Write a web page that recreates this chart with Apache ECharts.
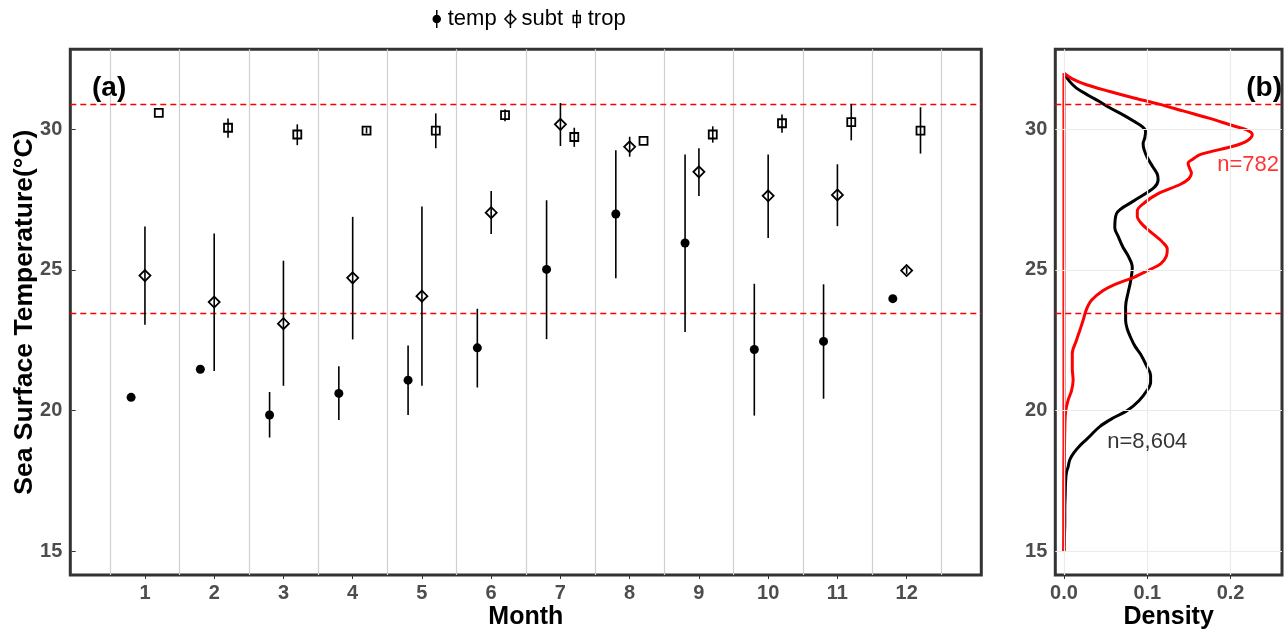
<!DOCTYPE html>
<html><head><meta charset="utf-8">
<script src="https://cdn.jsdelivr.net/npm/echarts@6/dist/echarts.min.js"></script>
<style>html,body{margin:0;padding:0;background:#fff}#c{width:1287px;height:634px}</style>
</head><body><div id="c"></div>
<script>
// ---------- data ----------
const months = [1,2,3,4,5,6,7,8,9,10,11,12];
const tempMean = [20.47,21.47,19.84,20.61,21.08,22.23,25.02,26.99,25.96,22.17,22.46,23.98];
const tempLow  = [null,null,19.04,19.66,19.84,20.82,22.54,24.71,22.79,19.82,20.42,null];
const tempHigh = [null,null,20.66,21.58,22.31,23.62,27.48,29.26,29.11,24.51,24.49,null];
const subtMean = [24.80,23.86,23.09,24.72,24.07,27.04,30.18,29.38,28.49,27.64,27.67,24.98];
const subtLow  = [23.05,21.41,20.88,22.53,20.88,26.28,29.41,29.03,27.63,26.14,26.56,24.86];
const subtHigh = [26.55,26.30,25.33,26.89,27.26,27.81,30.94,29.74,29.33,29.11,28.76,25.10];
const tropMean = [30.59,30.06,29.82,29.96,29.96,30.51,29.73,29.59,29.82,30.22,30.26,29.96];
const tropLow  = [null,29.70,29.44,29.86,29.33,30.29,29.38,null,29.53,29.88,29.61,29.14];
const tropHigh = [null,30.39,30.18,30.07,30.57,30.71,30.06,null,30.11,30.53,30.91,30.79];

const refLines = [30.91, 23.47];

const blackSST = [15,15.5,16,16.5,17,17.5,17.8,18.0,18.25,18.5,18.75,19.0,19.43,19.75,20.0,20.35,20.73,21.0,21.25,21.6,22.0,22.3,22.6,22.9,23.2,23.7,24.2,24.6,25.1,25.5,25.8,26.2,26.5,27.0,27.46,27.93,28.2,28.41,28.7,29.0,29.3,29.5,29.7,29.94,30.1,30.29,30.5,30.77,31.0,31.2,31.47,31.7,32.0];
const blackDensity = [0,0.0005,0.001,0.001,0.0015,0.002,0.003,0.005,0.007,0.012,0.019,0.028,0.043,0.060,0.076,0.090,0.100,0.104,0.104,0.099,0.092,0.085,0.080,0.076,0.074,0.074,0.077,0.080,0.082,0.077,0.071,0.065,0.061,0.063,0.084,0.108,0.113,0.112,0.106,0.100,0.096,0.095,0.097,0.098,0.094,0.084,0.072,0.055,0.042,0.030,0.015,0.007,0];
const redSST = [15,17,19.3,19.96,20.37,20.7,21.08,21.5,22.03,22.5,22.85,23.21,23.6,23.92,24.27,24.5,24.74,25.0,25.22,25.5,25.75,26.0,26.16,26.45,26.69,26.9,27.1,27.4,27.7,28.05,28.25,28.45,28.6,28.8,28.95,29.11,29.41,29.6,29.82,30.0,30.12,30.4,30.65,30.9,31.12,31.35,31.59,31.8,32.0];
const redDensity = [0,0,0.001,0.002,0.005,0.009,0.011,0.010,0.010,0.015,0.019,0.023,0.027,0.033,0.047,0.062,0.084,0.102,0.116,0.123,0.124,0.118,0.112,0.100,0.092,0.088,0.088,0.097,0.112,0.140,0.150,0.153,0.151,0.149,0.155,0.164,0.204,0.220,0.226,0.218,0.204,0.174,0.144,0.114,0.084,0.055,0.027,0.010,0];

const monthTicks = [1,2,3,4,5,6,7,8,9,10,11,12];
const sstTicks = [15,20,25,30];
const densityTicks = [0,0.1,0.2];
const monthGrid = [0.5,1.5,2.5,3.5,4.5,5.5,6.5,7.5,8.5,9.5,10.5,11.5,12.5];
const redLabel = 'n=782', blackLabel = 'n=8,604';

// ---------- layout / style ----------
const FONT = "'Liberation Sans', Arial, sans-serif";
const dodge = {temp:-0.2, subt:0, trop:0.2};
const redLabelPos = [0.221, 28.72];
const blackLabelPos = [0.1, 18.88];

function pts(means, off){ return months.map((m,i)=>[m+off, means[i]]); }
function bars(lo, hi, off){ const r=[]; months.forEach((m,i)=>{ if(lo[i]!=null) r.push([m+off, lo[i], hi[i]]); }); return r; }
const barData = [].concat(bars(tempLow,tempHigh,dodge.temp), bars(subtLow,subtHigh,dodge.subt), bars(tropLow,tropHigh,dodge.trop));

const tickLabel = {fontFamily:FONT, fontWeight:'bold', fontSize:20, color:'#4d4d4d'};
const nameStyleX = {fontFamily:FONT, fontWeight:'bold', fontSize:25, color:'#000'};
const nameStyleY = {fontFamily:FONT, fontWeight:'bold', fontSize:26.5, color:'#000'};
const tickStyle = {show:true, length:4, lineStyle:{color:'#333', width:1}};

const chart = echarts.init(document.getElementById('c'), null, {renderer:'canvas'});
const option = {
  animation:false,
  backgroundColor:'#fff',
  textStyle:{fontFamily:FONT},
  grid:[
    {left:70.3, top:49.3, width:911, height:525.7, show:true, borderColor:'#333', borderWidth:3, backgroundColor:'#fff', containLabel:false, outerBoundsMode:'none'},
    {left:1055.3, top:49.3, width:226.7, height:525.7, show:true, borderColor:'#333', borderWidth:3, backgroundColor:'#fff', containLabel:false, outerBoundsMode:'none'}
  ],
  xAxis:[
    {type:'value', gridIndex:0, min:-0.078, max:13.078, name:'Month', nameLocation:'middle', nameGap:30, nameMoveOverlap:false, nameTextStyle:nameStyleX,
     axisLine:{show:false}, splitLine:{show:false}, axisTick:Object.assign({customValues:monthTicks}, tickStyle),
     axisLabel:Object.assign({customValues:monthTicks, margin:8}, tickLabel)},
    {type:'value', gridIndex:1, min:-0.0104, max:0.2617, name:'Density', nameLocation:'middle', nameGap:30, nameMoveOverlap:false, nameTextStyle:nameStyleX,
     axisLine:{show:false}, splitLine:{show:false}, axisTick:Object.assign({customValues:densityTicks}, tickStyle),
     axisLabel:Object.assign({customValues:densityTicks, margin:8, formatter:v=>v.toFixed(1)}, tickLabel)}
  ],
  yAxis:[
    {type:'value', gridIndex:0, min:14.15, max:32.85, name:'Sea Surface Temperature(°C)', nameLocation:'middle', nameGap:32, nameMoveOverlap:false, nameTextStyle:nameStyleY,
     axisLine:{show:false}, splitLine:{show:false}, axisTick:Object.assign({customValues:sstTicks}, tickStyle),
     axisLabel:Object.assign({customValues:sstTicks, margin:8}, tickLabel)},
    {type:'value', gridIndex:1, min:14.15, max:32.85,
     axisLine:{show:false}, splitLine:{show:false}, axisTick:Object.assign({customValues:sstTicks}, tickStyle),
     axisLabel:Object.assign({customValues:sstTicks, margin:8}, tickLabel)}
  ],
  legend:{
    left:425, top:3, itemWidth:12, itemHeight:18, itemGap:7,
    textStyle:{fontFamily:FONT, fontSize:22, color:'#000'},
    data:[
      {name:'temp', icon:'path://M0,0M12,18M6,0L6,18M9.5,9A3.5,3.5,0,1,1,2.5,9A3.5,3.5,0,1,1,9.5,9Z', itemStyle:{color:'#000', borderColor:'#000', borderWidth:1.5}},
      {name:'subt', icon:'path://M0,0M12,18M6,0L6,18M6,3.5L11.5,9L6,14.5L0.5,9Z', itemStyle:{color:'rgba(0,0,0,0)', borderColor:'#000', borderWidth:1.5}},
      {name:'trop', icon:'path://M0,0M12,18M6,0L6,18M2.5,5.5L9.5,5.5L9.5,12.5L2.5,12.5Z', itemStyle:{color:'rgba(0,0,0,0)', borderColor:'#000', borderWidth:1.5}}
    ]
  },
  graphic:[
    {type:'text', left:92, top:74, style:{text:'(a)', font:"bold 28px 'Liberation Sans', Arial, sans-serif", fill:'#000'}, z:100},
    {type:'text', right:5, top:74, style:{text:'(b)', font:"bold 28px 'Liberation Sans', Arial, sans-serif", fill:'#000'}, z:100}
  ],
  series:[
    {name:'gridA', type:'line', xAxisIndex:0, yAxisIndex:0, data:[], z:1, silent:true,
     markLine:{silent:true, symbol:'none', label:{show:false}, animation:false,
       lineStyle:{color:'#cfcfcf', width:1.2, type:'solid'}, data:monthGrid.map(v=>({xAxis:v}))}},
    {name:'gridB', type:'line', xAxisIndex:1, yAxisIndex:1, data:[], z:1, silent:true,
     markLine:{silent:true, symbol:'none', label:{show:false}, animation:false,
       lineStyle:{color:'#ebebeb', width:1.2, type:'solid'}, data:densityTicks.map(v=>({xAxis:v})).concat(sstTicks.map(v=>({yAxis:v})))}},
    {name:'refA', type:'line', xAxisIndex:0, yAxisIndex:0, data:[], z:2, silent:true,
     markLine:{silent:true, symbol:'none', label:{show:false}, animation:false,
       lineStyle:{color:'#ff0000', width:1.3, type:[6,4]}, data:refLines.map(v=>({yAxis:v}))}},
    {name:'refB', type:'line', xAxisIndex:1, yAxisIndex:1, data:[], z:2, silent:true,
     markLine:{silent:true, symbol:'none', label:{show:false}, animation:false,
       lineStyle:{color:'#ff0000', width:1.3, type:[6,4]}, data:refLines.map(v=>({yAxis:v}))}},
    {name:'errorbars', type:'custom', xAxisIndex:0, yAxisIndex:0, z:5, silent:true,
     data:barData, encode:{x:0, y:[1,2]},
     renderItem:function(params, api){
       const a = api.coord([api.value(0), api.value(1)]);
       const b = api.coord([api.value(0), api.value(2)]);
       return {type:'line', shape:{x1:a[0], y1:a[1], x2:b[0], y2:b[1]}, style:{stroke:'#000', lineWidth:1.6}};
     }},
    {name:'temp', type:'scatter', xAxisIndex:0, yAxisIndex:0, z:4, data:pts(tempMean, dodge.temp),
     symbol:'circle', symbolSize:9, itemStyle:{color:'#000', borderWidth:0, opacity:1}},
    {name:'subt', type:'scatter', xAxisIndex:0, yAxisIndex:0, z:4, data:pts(subtMean, dodge.subt),
     symbol:'diamond', symbolSize:11, itemStyle:{color:'rgba(0,0,0,0)', borderColor:'#000', borderWidth:1.8, opacity:1}},
    {name:'trop', type:'scatter', xAxisIndex:0, yAxisIndex:0, z:4, data:pts(tropMean, dodge.trop),
     symbol:'rect', symbolSize:8, itemStyle:{color:'rgba(0,0,0,0)', borderColor:'#000', borderWidth:1.8, opacity:1}},
    {name:'densBlack', type:'line', xAxisIndex:1, yAxisIndex:1, z:3, data:blackSST.map((s,i)=>[blackDensity[i], s]),
     smooth:0.35, showSymbol:false, symbol:'none', lineStyle:{color:'#000', width:3}},
    {name:'densRed', type:'line', xAxisIndex:1, yAxisIndex:1, z:3, data:redSST.map((s,i)=>[redDensity[i], s]),
     smooth:0.35, showSymbol:false, symbol:'none', lineStyle:{color:'#ff0000', width:3}},
    {name:'baseRed', type:'line', xAxisIndex:1, yAxisIndex:1, z:3, data:[[0, redSST[0]], [0, redSST[redSST.length-1]]],
     showSymbol:false, symbol:'none', lineStyle:{color:'#ff0000', width:3}},
    {name:'labels', type:'scatter', xAxisIndex:1, yAxisIndex:1, z:6, symbolSize:0, silent:true,
     data:[{value:redLabelPos, label:{show:true, formatter:redLabel, color:'#ff0000'}},
           {value:blackLabelPos, label:{show:true, formatter:blackLabel, color:'#000'}}],
     label:{show:true, position:'inside', fontFamily:FONT, fontSize:22}}
  ]
};
chart.setOption(option);
</script>
</body></html>
